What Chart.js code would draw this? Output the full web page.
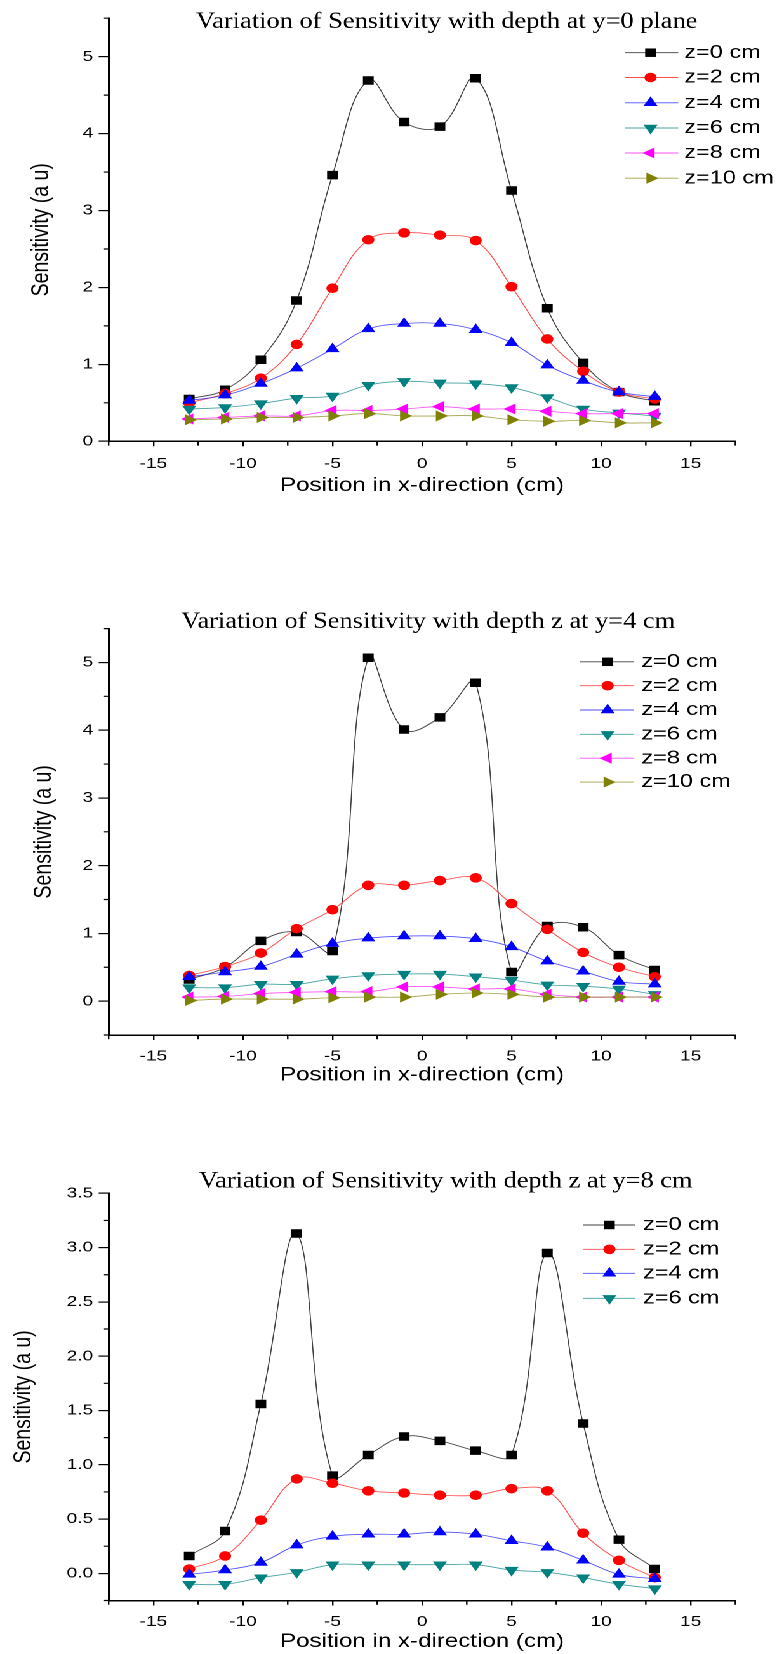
<!DOCTYPE html>
<html><head><meta charset="utf-8">
<script src="https://cdn.jsdelivr.net/npm/chart.js"></script>
<style>
html,body{margin:0;padding:0;background:#fff;}
body{width:777px;height:1654px;overflow:hidden;position:relative;}
#wrap{position:absolute;left:0;top:0;width:612px;height:1654px;transform:scaleX(1.26961);transform-origin:0 0;}
#wrap canvas{position:absolute;left:0;}
</style></head><body>
<div id="wrap">
<canvas id="c1" width="612" height="530" style="top:0px"></canvas>
<canvas id="c2" width="612" height="540" style="top:560px"></canvas>
<canvas id="c3" width="612" height="504" style="top:1150px"></canvas>
</div>
<script>
// ---------- data ----------
const xPositions = [-13,-11,-9,-7,-5,-3,-1,1,3,5,7,9,11,13];
const xTickValues = [-15,-10,-5,0,5,10,15];
const xTickLabels = ['-15','-10','-5','0','5','10','15'];
const xMinorTicks = [-17.5,-12.5,-7.5,-2.5,2.5,7.5,12.5,17.5];
const xAxisTitle = 'Position in x-direction (cm)';
const yAxisTitle = 'Sensitivity (a u)';

const c1Title = 'Variation of Sensitivity with depth at y=0 plane';
const c1Labels = ['z=0 cm','z=2 cm','z=4 cm','z=6 cm','z=8 cm','z=10 cm'];
const c1_z0  = [0.55,0.67,1.06,1.83,3.46,4.69,4.15,4.09,4.72,3.26,1.73,1.02,0.64,0.52];
const c1_z2  = [0.50,0.62,0.82,1.26,1.99,2.62,2.71,2.68,2.61,2.01,1.33,0.91,0.64,0.55];
const c1_z4  = [0.53,0.60,0.75,0.95,1.20,1.46,1.53,1.53,1.45,1.28,0.99,0.79,0.64,0.58];
const c1_z6  = [0.42,0.44,0.49,0.56,0.59,0.73,0.78,0.76,0.75,0.70,0.57,0.42,0.37,0.33];
const c1_z8  = [0.29,0.31,0.33,0.33,0.40,0.40,0.42,0.45,0.42,0.42,0.39,0.36,0.36,0.36];
const c1_z10 = [0.28,0.29,0.31,0.31,0.33,0.36,0.33,0.33,0.33,0.28,0.26,0.27,0.24,0.24];
const c1_yTicks = [0,1,2,3,4,5];
const c1_yLabels = ['0','1','2','3','4','5'];
const c1_yMinor = [0.5,1.5,2.5,3.5,4.5,5.5];

const c2Title = 'Variation of Sensitivity with depth z at y=4 cm';
const c2Labels = ['z=0 cm','z=2 cm','z=4 cm','z=6 cm','z=8 cm','z=10 cm'];
const c2_z0  = [0.32,0.50,0.89,1.02,0.74,5.07,4.01,4.19,4.70,0.43,1.11,1.09,0.68,0.46];
const c2_z2  = [0.38,0.51,0.71,1.07,1.35,1.71,1.71,1.78,1.82,1.44,1.06,0.72,0.50,0.36];
const c2_z4  = [0.36,0.43,0.51,0.69,0.85,0.93,0.96,0.96,0.92,0.80,0.59,0.44,0.29,0.25];
const c2_z6  = [0.20,0.20,0.25,0.25,0.33,0.38,0.40,0.40,0.36,0.31,0.24,0.22,0.18,0.10];
const c2_z8  = [0.06,0.07,0.11,0.13,0.14,0.14,0.21,0.21,0.18,0.18,0.10,0.06,0.06,0.06];
const c2_z10 = [0.01,0.03,0.03,0.03,0.05,0.06,0.06,0.10,0.12,0.10,0.06,0.06,0.06,0.06];
const c2_yTicks = [0,1,2,3,4,5];
const c2_yLabels = ['0','1','2','3','4','5'];
const c2_yMinor = [-0.5,0.5,1.5,2.5,3.5,4.5,5.5];

const c3Title = 'Variation of Sensitivity with depth z at y=8 cm';
const c3Labels = ['z=0 cm','z=2 cm','z=4 cm','z=6 cm'];
const c3_z0 = [0.16,0.39,1.56,3.13,0.90,1.09,1.26,1.22,1.13,1.09,2.95,1.38,0.31,0.04];
const c3_z2 = [0.04,0.16,0.49,0.87,0.83,0.76,0.74,0.72,0.72,0.78,0.76,0.37,0.12,-0.04];
const c3_z4 = [-0.01,0.03,0.10,0.26,0.34,0.36,0.36,0.38,0.36,0.30,0.24,0.12,-0.01,-0.05];
const c3_z6 = [-0.10,-0.10,-0.04,0.01,0.08,0.08,0.08,0.08,0.08,0.03,0.01,-0.04,-0.10,-0.14];
const c3_yTicks = [0,0.5,1,1.5,2,2.5,3,3.5];
const c3_yLabels = ['0.0','0.5','1.0','1.5','2.0','2.5','3.0','3.5'];
const c3_yMinor = [-0.25,0.25,0.75,1.25,1.75,2.25,2.75,3.25];

// ---------- styles ----------
const SANS = '"Liberation Sans", Arial, sans-serif';
const SERIF = '"Liberation Serif", "Times New Roman", serif';
const COLORS = ['#000000','#FF0000','#0000FF','#008080','#FF00FF','#808000'];
const LINE_COLORS = ['rgba(0,0,0,0.75)','rgba(255,0,0,0.7)','rgba(0,0,255,0.7)','rgba(0,128,128,0.75)','rgba(255,0,255,0.7)','rgba(128,128,0,0.75)'];
const MARKERS = [
  {s:'rect', r:6, rot:0},
  {s:'circle', r:4.8, rot:0},
  {s:'triangle', r:6.4, rot:0},
  {s:'triangle', r:6.4, rot:180},
  {s:'triangle', r:6.4, rot:-90},
  {s:'triangle', r:6.4, rot:90}
];

function drawMarker(ctx, m, x, y, color) {
  ctx.fillStyle = color;
  if (Chart.helpers && Chart.helpers.drawPoint) {
    Chart.helpers.drawPoint(ctx, {pointStyle:m.s, radius:m.r, rotation:m.rot, borderWidth:0}, x, y);
    return;
  }
  ctx.beginPath();
  if (m.s === 'circle') ctx.arc(x, y, m.r, 0, Math.PI*2);
  else if (m.s === 'rect') { const h = m.r*Math.SQRT1_2; ctx.rect(x-h, y-h, 2*h, 2*h); }
  else {
    let a = m.rot*Math.PI/180;
    for (let k=0;k<3;k++){ const ang=a+k*2*Math.PI/3; const px=x+Math.sin(ang)*m.r, py=y-Math.cos(ang)*m.r; k?ctx.lineTo(px,py):ctx.moveTo(px,py);}
    ctx.closePath();
  }
  ctx.fill();
}

function makeChart(id, spec, lay) {
  const datasets = spec.series.map((vals, i) => ({
    label: spec.labels[i],
    data: xPositions.map((xv, j) => ({x: xv, y: vals[j]})),
    borderColor: LINE_COLORS[i],
    backgroundColor: COLORS[i],
    borderWidth: 0.85,
    tension: 0.4,
    fill: false,
    pointStyle: MARKERS[i].s,
    pointRadius: MARKERS[i].r,
    pointHoverRadius: MARKERS[i].r,
    pointRotation: MARKERS[i].rot,
    pointBorderWidth: 0,
    pointBackgroundColor: COLORS[i],
    order: -i
  }));
  const decor = {
    id: 'decor',
    afterDraw(chart) {
      const {ctx, chartArea: a} = chart;
      const xs = chart.scales.x, ys = chart.scales.y;
      ctx.save();
      ctx.strokeStyle = '#000'; ctx.lineWidth = 1.2;
      ctx.beginPath();
      spec.yMinor.forEach(v => { const py = ys.getPixelForValue(v); ctx.moveTo(a.left - 3.7, py); ctx.lineTo(a.left, py); });
      xMinorTicks.forEach(v => { const px = xs.getPixelForValue(v); ctx.moveTo(px, a.bottom); ctx.lineTo(px, a.bottom + 4.3); });
      ctx.stroke();
      // title
      ctx.fillStyle = '#000';
      ctx.font = '23px ' + SERIF;
      ctx.textAlign = 'center'; ctx.textBaseline = 'alphabetic';
      ctx.fillText(spec.title, lay.titleX, lay.titleY, lay.titleW);
      // legend
      spec.labels.forEach((lab, i) => {
        const ly = lay.legY[i];
        ctx.strokeStyle = LINE_COLORS[i]; ctx.lineWidth = 0.9;
        ctx.beginPath(); ctx.moveTo(lay.legL1, ly); ctx.lineTo(lay.legL2, ly); ctx.stroke();
        drawMarker(ctx, MARKERS[i], lay.legM, ly, COLORS[i]);
        ctx.fillStyle = '#000';
        ctx.font = '18.5px ' + SANS;
        ctx.textAlign = 'left'; ctx.textBaseline = 'middle';
        ctx.fillText(lab, lay.legT, ly);
      });
      ctx.restore();
    }
  };
  const H = lay.H;
  const xScaleH = lay.xTitleOff + 11.4;
  return new Chart(document.getElementById(id), {
    type: 'line',
    data: {datasets},
    options: {
      responsive: false,
      devicePixelRatio: 2,
      animation: false,
      layout: {padding: {top: lay.padTop, right: 32.8, left: 0, bottom: H - lay.axisY - xScaleH}},
      plugins: {legend: {display:false}, tooltip: {enabled:false}, title: {display:false}},
      scales: {
        x: {
          type: 'linear', min: -17.5, max: 17.5,
          afterBuildTicks: s => { s.ticks = xTickValues.map(v => ({value: v})); },
          afterFit: s => { s.height = xScaleH; },
          ticks: {autoSkip:false, maxRotation:0, minRotation:0, padding: lay.xTickPad, color:'#000',
                  font:{family:SANS, size:15}, callback: (v, i) => xTickLabels[i]},
          grid: {display:true, drawOnChartArea:false, drawTicks:true, tickLength:5, color:'#000', lineWidth:1.2},
          border: {display:true, color:'#000', width:1.5},
          title: {display:true, text:xAxisTitle, color:'#000', font:{family:SANS, size:19}, padding:{top:0, bottom:0}}
        },
        y: {
          type: 'linear', min: spec.yMin, max: spec.yMax,
          afterBuildTicks: s => { s.ticks = spec.yTicks.map(v => ({value: v})); },
          afterFit: s => { s.width = 85.6; },
          ticks: {autoSkip:false, padding:4.4, color:'#000', font:{family:SANS, size:15},
                  callback: (v, i) => spec.yLabels[i]},
          grid: {display:true, drawOnChartArea:false, drawTicks:true, tickLength:7.9, color:'#000', lineWidth:1.2},
          border: {display:true, color:'#000', width:1.5},
          title: {display:true, text:yAxisTitle, color:'#000', font:{family:SANS, size:19.5},
                  padding:{top: lay.yTitleX - 11.7, bottom:0}}
        }
      }
    },
    plugins: [decor]
  });
}

makeChart('c1', {
  title: c1Title, labels: c1Labels, series: [c1_z0,c1_z2,c1_z4,c1_z6,c1_z8,c1_z10],
  yMin: 0, yMax: 5.5, yTicks: c1_yTicks, yLabels: c1_yLabels, yMinor: c1_yMinor
}, {H:530, padTop:18.2, axisY:441.3, xTitleOff:44.7, xTickPad:8.5, yTitleX:32.5,
    titleX:351.9, titleY:28, titleW:395,
    legY:[52.7,77.5,102.8,128,153,178.2], legL1:492, legL2:534.2, legM:512.4, legT:539});

makeChart('c2', {
  title: c2Title, labels: c2Labels, series: [c2_z0,c2_z2,c2_z4,c2_z6,c2_z8,c2_z10],
  yMin: -0.5, yMax: 5.5, yTicks: c2_yTicks, yLabels: c2_yLabels, yMinor: c2_yMinor
}, {H:540, padTop:68.6, axisY:475, xTitleOff:40.4, xTickPad:7.4, yTitleX:34.7,
    titleX:337.3, titleY:67.9, titleW:389,
    legY:[101.8,125.7,150,174.3,198.2,222.1], legL1:457, legL2:499, legM:478.6, legT:505.2});

makeChart('c3', {
  title: c3Title, labels: c3Labels, series: [c3_z0,c3_z2,c3_z4,c3_z6],
  yMin: -0.25, yMax: 3.5, yTicks: c3_yTicks, yLabels: c3_yLabels, yMinor: c3_yMinor
}, {H:504, padTop:43.3, axisY:450.5, xTitleOff:41.2, xTickPad:7.2, yTitleX:18.4,
    titleX:351.1, titleY:37.3, titleW:388.7,
    legY:[75,99.3,123.3,148.3], legL1:459.2, legL2:500.2, legM:480, legT:506.5});
</script>
</body></html>
